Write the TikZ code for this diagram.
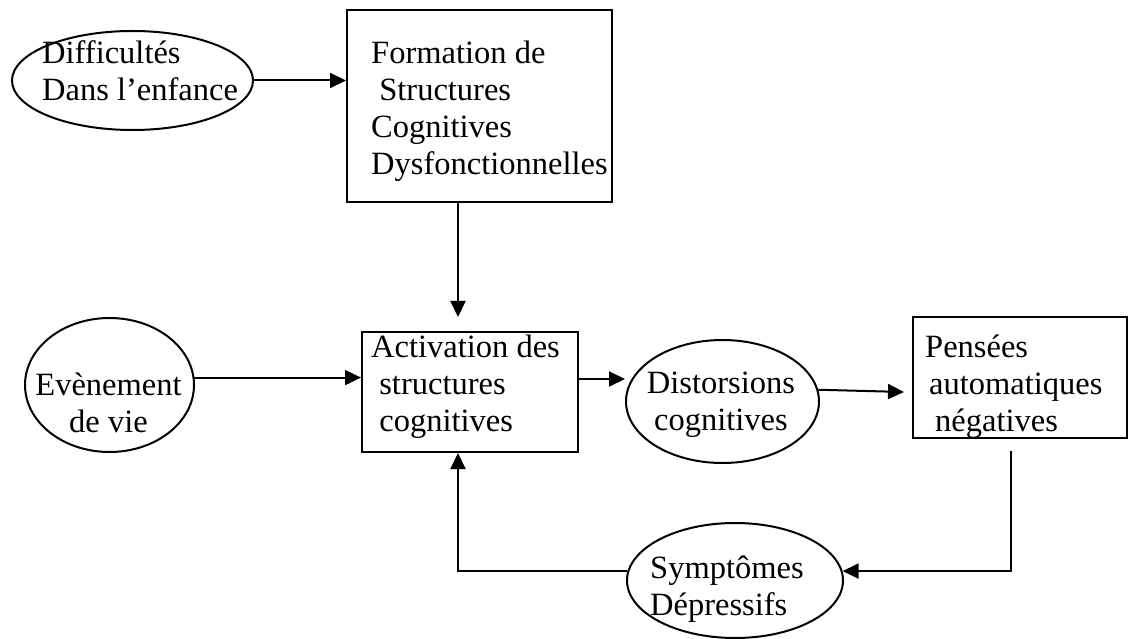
\documentclass[tikz,border=0pt]{standalone}
\usepackage{fontspec}
\setmainfont{Liberation Serif}
\usetikzlibrary{shapes.geometric,arrows.meta}
\begin{document}
\begin{tikzpicture}[x=1pt,y=-1pt,
  outline/.style={draw, line width=2pt, inner sep=0pt},
  boxnode/.style={outline, rectangle},
  ell/.style={outline, ellipse},
  txt/.style={font=\fontsize{32.5}{37}\selectfont, inner sep=0pt, align=left, anchor=north west},
  ctxt/.style={font=\fontsize{32.5}{37}\selectfont, inner sep=0pt, align=center, anchor=north},
  arr/.style={line width=2pt, -{Triangle[length=16pt,width=15pt]}}]
\useasboundingbox (0,0) rectangle (1128,639);

% shapes
\node[ell, minimum width=241pt, minimum height=99pt] (diff) at (132.5,80.5) {};
\node[boxnode, minimum width=265pt, minimum height=192pt] (form) at (479.5,106) {};
\node[ell, minimum width=169pt, minimum height=134pt] (evt) at (109.5,385) {};
\node[boxnode, minimum width=216pt, minimum height=120pt] (act) at (470,392) {};
\node[ell, minimum width=193pt, minimum height=123pt] (dist) at (722.5,401.5) {};
\node[boxnode, minimum width=214pt, minimum height=121pt] (pens) at (1020,377.5) {};
\node[ell, minimum width=216pt, minimum height=115pt] (symp) at (735,580.5) {};

% texts
\node[txt] (difft) at (42,37.1) {\strut Difficultés\\Dans l’enfance};
\node[txt] (formt) at (371,37.1) {\strut Formation de\\\hspace*{0.25em}Structures\\Cognitives\\Dysfonctionnelles};
\node[ctxt] (evtt) at (108.5,369.1) {\strut Evènement\\de vie};
\node[txt] (actt) at (371,331.1) {\strut Activation des\\\hspace*{0.25em}structures\\\hspace*{0.25em}cognitives};
\node[ctxt] (distt) at (721,367.1) {\strut Distorsions\\cognitives};
\node[txt] (penst) at (925,331.1) {\strut Pensées\\\hspace*{4pt}automatiques\\\hspace*{10pt}négatives};
\node[txt] (sympt) at (650,552.1) {\strut Symptômes\\Dépressifs};

% helper coordinates
\coordinate (ain) at (458,317);
\coordinate (dp) at (904,392);
\coordinate (ps) at (1011,451);

% connectors
\draw[arr] (diff.east) -- (diff.east -| form.west);
\draw[arr] (form.south -| ain) -- (ain);
\draw[arr] (evt.5) -- (evt.5 -| act.west);
\draw[arr] ([yshift=13pt]act.east) -- ([yshift=13pt]act.east -| dist.west);
\draw[arr] (dist.7) -- (dp);
\draw[arr] (ps) |- (symp.5);
\draw[arr] (symp.175) -| (ain |- act.south);
\end{tikzpicture}
\end{document}
